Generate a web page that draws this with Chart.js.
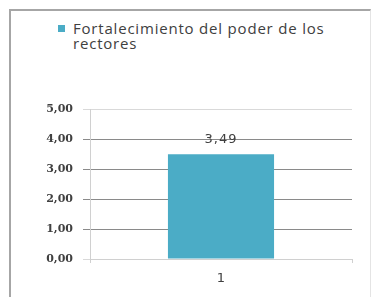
<!DOCTYPE html>
<html><head><meta charset="utf-8">
<script src="https://cdn.jsdelivr.net/npm/chart.js@4/dist/chart.umd.min.js"></script>
<style>
html,body{margin:0;padding:0;background:#fff;}
#wrap{position:relative;width:371px;height:297px;overflow:hidden;}
#frame{position:absolute;left:9px;top:9px;width:359px;height:300px;border-left:2px solid #a6a6a6;border-top:2px solid #a6a6a6;border-right:1px solid #e4e4e4;}
#legend{position:absolute;left:58px;top:21px;width:285px;font-family:"Open Sans",sans-serif;font-size:15px;letter-spacing:0.8px;line-height:15px;color:#404040;}
#legend .sw{position:absolute;left:0;top:4px;width:7px;height:7px;background:#4BACC6;}
#legend .tx{margin-left:15px;}
canvas{position:absolute;left:0;top:0;}
</style></head>
<body><div id="wrap"><div id="frame"></div>
<div id="legend"><span class="sw"></span><div class="tx" id="legtext"></div></div>
<canvas id="c" width="371" height="297"></canvas></div>
<script>
const categories = ["1"];
const seriesName = "Fortalecimiento del poder de los rectores";
const values = [3.49];
const yTicks = [0, 1, 2, 3, 4, 5];

document.getElementById('legtext').textContent = seriesName;
const fmt = v => v.toFixed(2).replace('.', ',');

const labelPlugin = {
  id: 'barLabels',
  afterDatasetsDraw(chart) {
    const ctx = chart.ctx;
    const meta = chart.getDatasetMeta(0);
    ctx.save();
    ctx.font = '13px "DejaVu Sans", sans-serif';
    ctx.letterSpacing = '1px';
    ctx.fillStyle = '#404040';
    ctx.textAlign = 'center';
    ctx.textBaseline = 'alphabetic';
    meta.data.forEach((el, i) => {
      ctx.fillText(fmt(values[i]), el.x, el.y - 11);
    });
    ctx.restore();
  }
};

new Chart(document.getElementById('c'), {
  type: 'bar',
  data: {
    labels: categories,
    datasets: [{
      label: seriesName,
      data: values,
      backgroundColor: '#4BACC6',
      borderWidth: 0,
      barPercentage: 0.81,
      categoryPercentage: 0.5
    }]
  },
  options: {
    responsive: false,
    animation: false,
    devicePixelRatio: 1,
    layout: { padding: { left: 0, right: 19, top: 109, bottom: 0 } },
    plugins: { legend: { display: false }, tooltip: { enabled: false } },
    scales: {
      x: {
        grid: { offset: true, drawOnChartArea: false, drawTicks: true, tickLength: 4, color: '#d0d0d0' },
        border: { color: '#d0d0d0', width: 1 },
        ticks: { color: '#404040', font: { family: '"DejaVu Sans", sans-serif', size: 13 }, padding: 8 },
        afterFit(s) { s.height = 38; }
      },
      y: {
        min: 0, max: 5,
        afterBuildTicks(s) { s.ticks = yTicks.map(v => ({ value: v })); },
        grid: {
          color: ctx => (ctx.tick && (ctx.tick.value === 0 || ctx.tick.value === 5)) ? '#d9d9d9' : '#8a8a8a',
          tickLength: 7
        },
        border: { color: '#d0d0d0', width: 1 },
        ticks: {
          color: '#404040',
          font: { family: '"DejaVu Serif", serif', size: 11, weight: 'bold' },
          padding: 10,
          callback: v => fmt(v)
        },
        afterFit(s) { s.width = 90; }
      }
    }
  },
  plugins: [labelPlugin]
});
</script></body></html>
